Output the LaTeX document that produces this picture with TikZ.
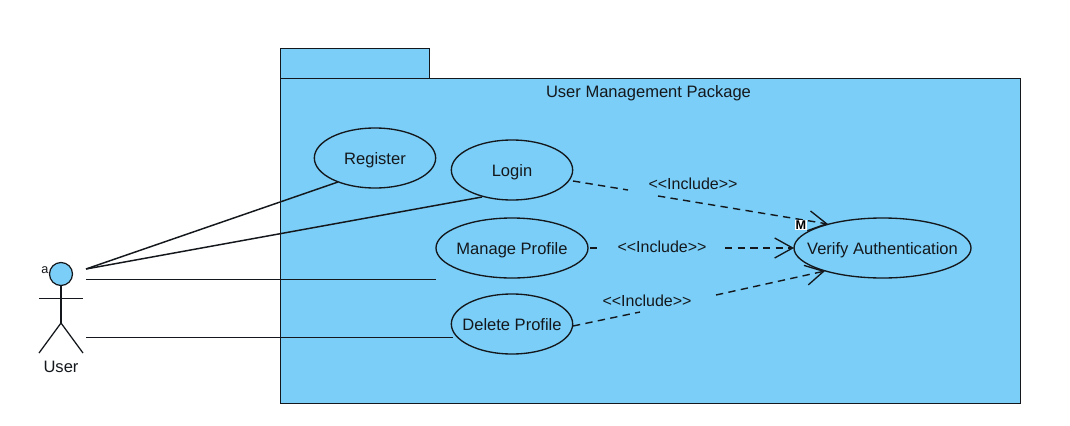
\documentclass[tikz,border=0pt]{standalone}
\usepackage{fontspec}
\setmainfont{Liberation Sans}
\usetikzlibrary{arrows.meta,shapes.geometric}
\definecolor{pkg}{RGB}{122,206,247}
\definecolor{ink}{RGB}{20,24,28}
\newcommand{\uctext}[1]{\makebox[0pt]{\raisebox{-4.6pt}[0pt][0pt]{#1}}}
\tikzset{
  x=0.75pt,y=-0.75pt,
  every node/.style={font=\fontsize{12.4}{14}\selectfont,text=ink,inner sep=0pt},
  pkgbox/.style={draw=ink,fill=pkg,line width=0.95pt},
  usecase/.style={ellipse,draw=ink,fill=pkg,line width=1pt,minimum height=45pt,inner sep=0pt},
  assoc/.style={draw=ink,line width=1.1pt},
  incl/.style={draw=ink,line width=1.05pt,dash pattern=on 5.5pt off 4pt},
  inclarrow/.style={incl,-{Straight Barb[length=13.5pt,width=15pt,line width=1pt]}},
  stick/.style={draw=ink,line width=0.95pt},
  incllabel/.style={font=\fontsize{12}{14}\selectfont},
}
\begin{document}
\begin{tikzpicture}
\useasboundingbox (0,0) rectangle (1070,425);
\fill[white] (0,0) rectangle (1070,425);
% package
\node[pkgbox,minimum width=111.75pt,minimum height=22.5pt,anchor=north west] (tab) at (280,48) {};
\node[pkgbox,minimum width=555pt,minimum height=243.75pt,anchor=north west] (pkg) at (280,78) {};
\node (pkgname) at (648.5,93) {User Management Package};
% use cases
\node[usecase,minimum width=91pt] (register) at (375,158) {\uctext{Register}};
\node[usecase,minimum width=91pt] (login) at (512,170) {\uctext{Login}};
\node[usecase,minimum width=114pt] (manage) at (512,248) {\uctext{Manage Profile}};
\node[usecase,minimum width=91pt] (delete) at (512,324) {\uctext{Delete Profile}};
\node[usecase,minimum width=132.75pt] (verify) at (882.5,248) {\uctext{Verify Authentication}};
% actor
\node[circle,draw=ink,fill=pkg,line width=0.9pt,minimum size=17.25pt] (head) at (61,274) {};
\coordinate (hip) at (61,323);
\coordinate (armL) at (39,298.5);
\coordinate (armR) at (83,298.5);
\coordinate (footL) at (39,353);
\coordinate (footR) at (83,353);
\draw[stick] (head) -- (hip);
\draw[stick] (armL) -- (armR);
\draw[stick] (footL) -- (hip) -- (footR);
\node (user) at (61,367) {User};
\node[font=\fontsize{9.5}{11}\selectfont] (mark) at (45,270) {a};
% associations
\coordinate (a1) at (86,269);
\coordinate (a2) at (86,269);
\coordinate (a3) at (86,279.5);
\coordinate (a4) at (86,337.5);
\coordinate (e1) at (338,182);
\coordinate (e2) at (482,197);
\coordinate (e3) at (436,279.5);
\coordinate (e4) at (453,337.5);
\draw[assoc] (a1) -- (e1);
\draw[assoc] (a2) -- (e2);
\draw[assoc] (a3) -- (e3);
\draw[assoc] (a4) -- (e4);
% includes
\coordinate (s1) at (573,181);
\coordinate (g1a) at (628,190);
\coordinate (g1b) at (658,196);
\coordinate (t1) at (828,224);
\coordinate (s2) at (590,248);
\coordinate (g2a) at (602,248);
\coordinate (g2b) at (725,248);
\coordinate (t2) at (794,248);
\coordinate (s3) at (573,326);
\coordinate (g3a) at (640,312);
\coordinate (g3b) at (716,295);
\coordinate (t3) at (825,271);
\draw[incl] (s1) -- (g1a);
\draw[inclarrow] (g1b) -- (t1);
\draw[incl] (s2) -- (g2a);
\draw[inclarrow] (g2b) -- (t2);
\draw[incl] (s3) -- (g3a);
\draw[inclarrow] (g3b) -- (t3);
\node[incllabel] (l1) at (693,184) {<{}<Include>{}>};
\node[incllabel] (l2) at (662,247) {<{}<Include>{}>};
\node[incllabel] (l3) at (647,301) {<{}<Include>{}>};
\node[fill=white,inner sep=0.6pt,font=\bfseries\fontsize{9.5}{10}\selectfont,text=black] (m) at (801,225) {M};
\end{tikzpicture}
\end{document}
